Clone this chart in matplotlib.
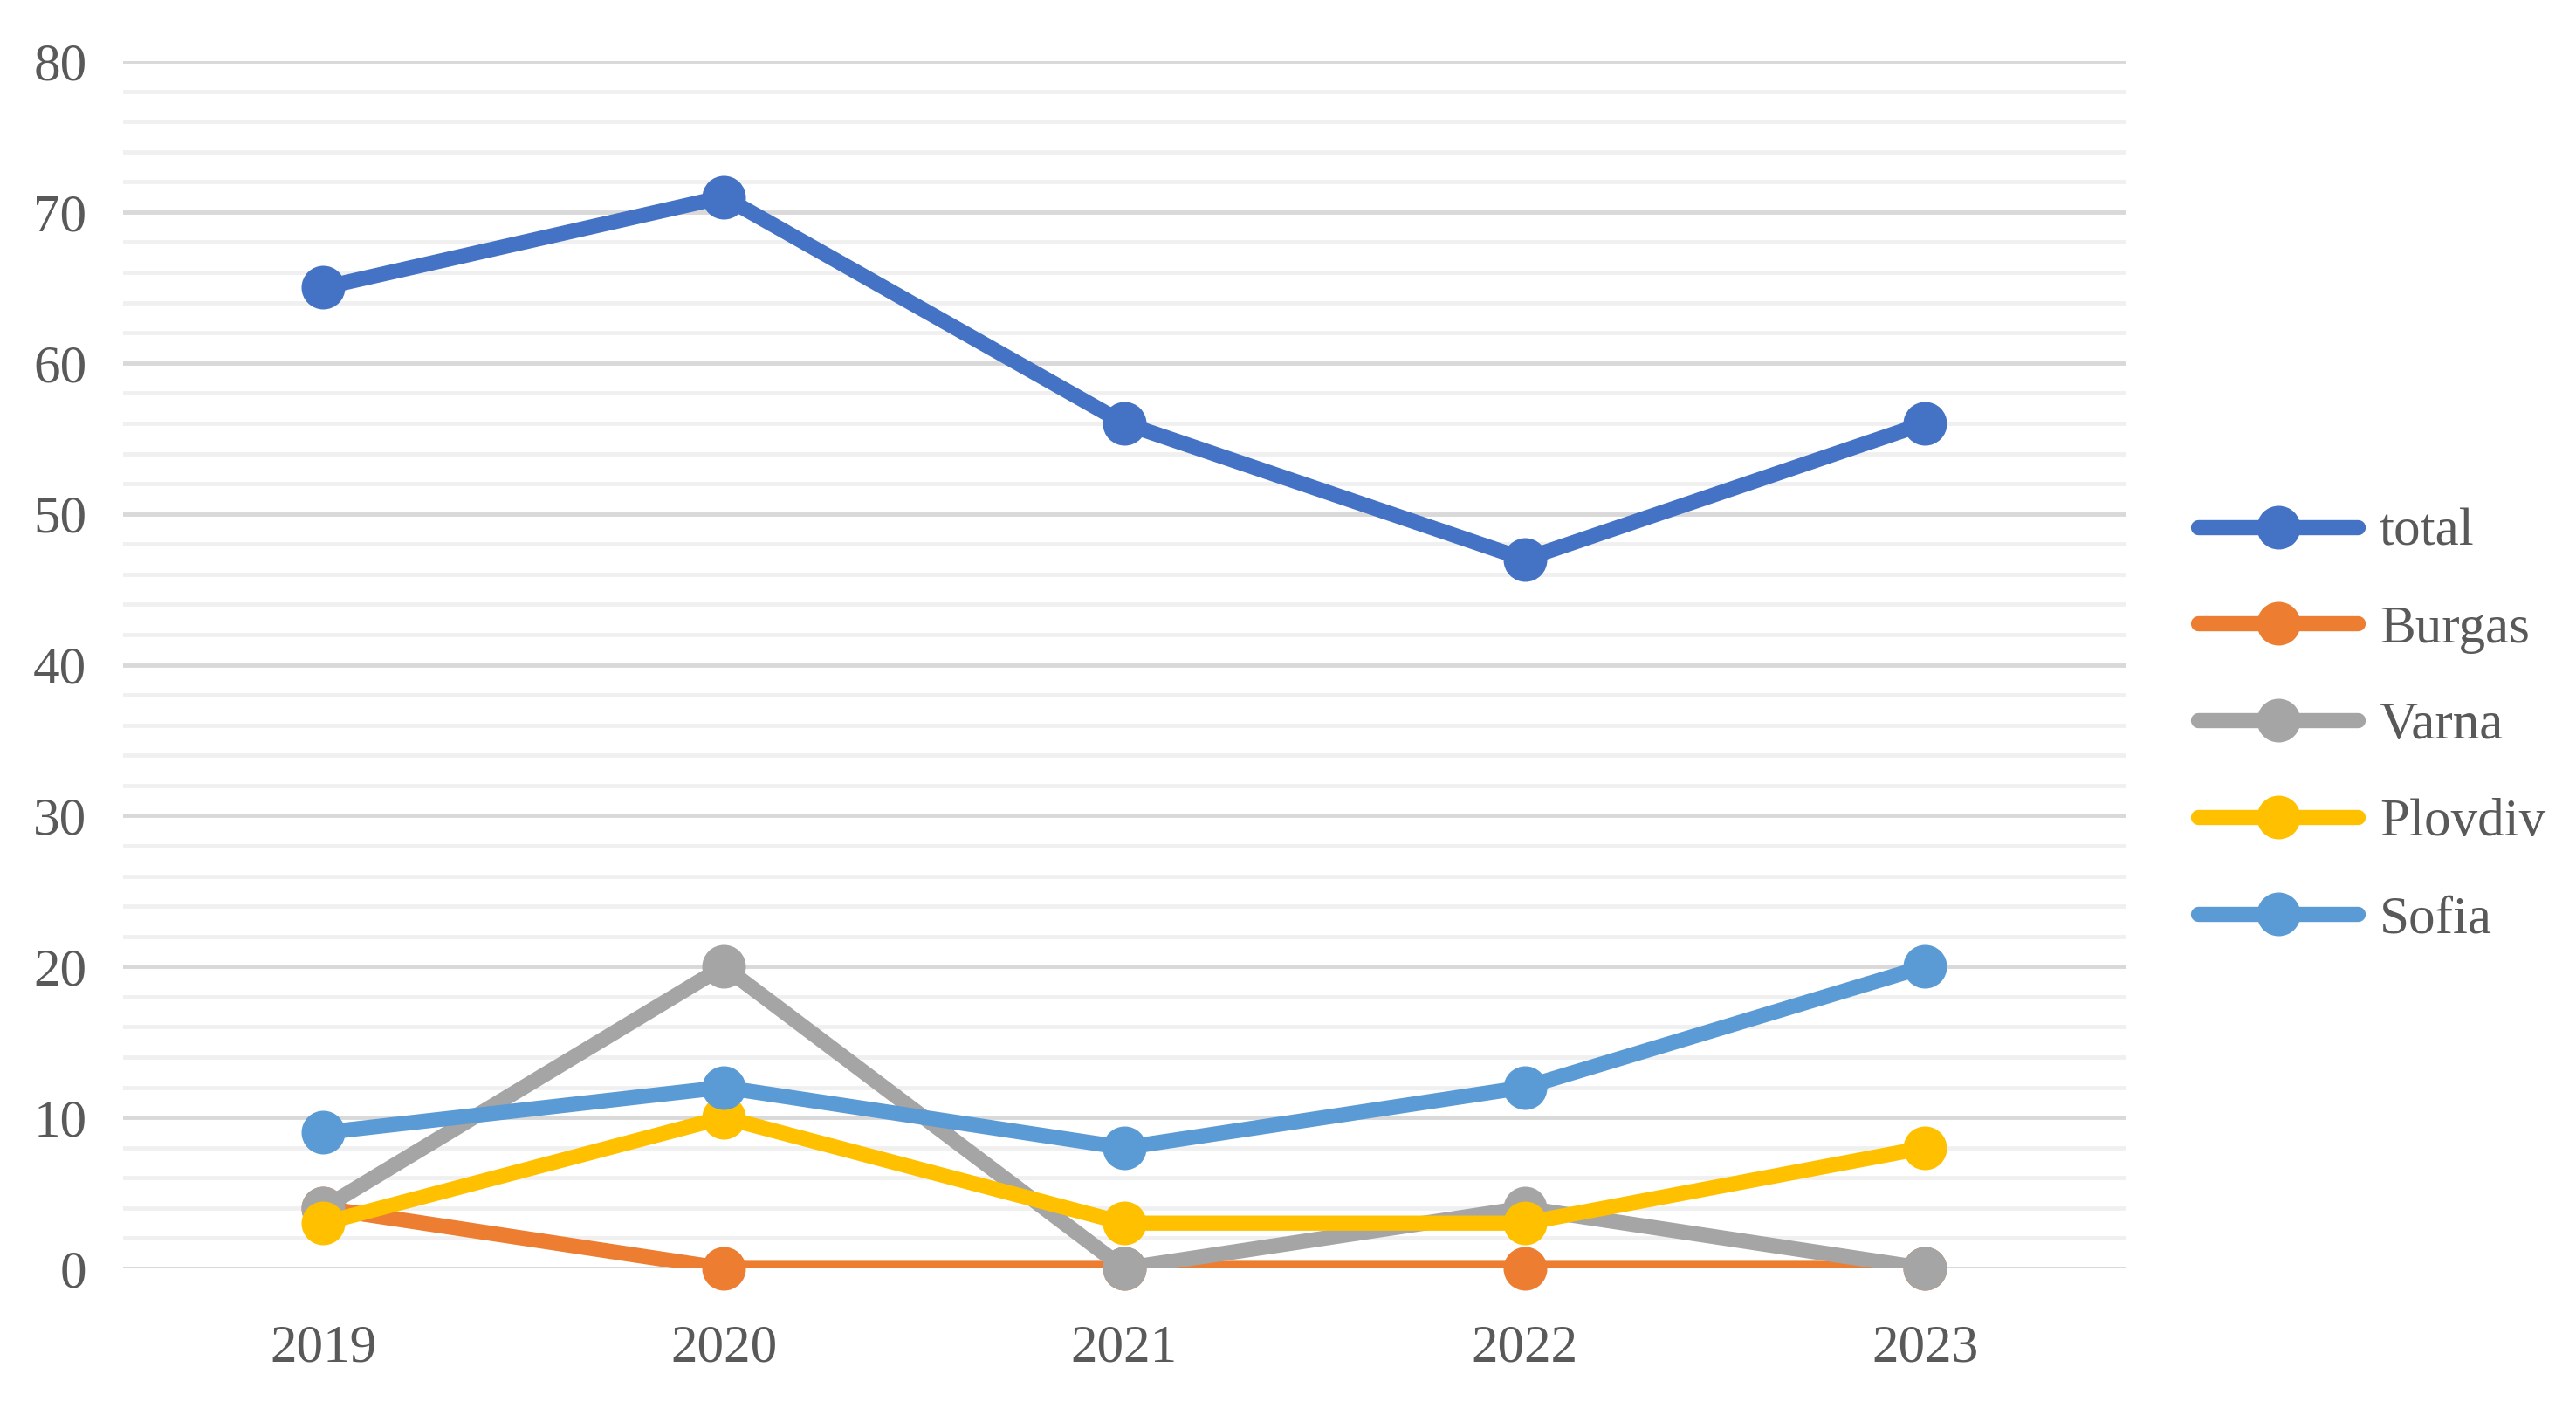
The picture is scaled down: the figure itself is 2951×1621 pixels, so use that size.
import matplotlib.pyplot as plt
from matplotlib.ticker import MultipleLocator

years = ['2019', '2020', '2021', '2022', '2023']
total = [65, 71, 56, 47, 56]
burgas = [4, 0, 0, 0, 0]
varna = [4, 20, 0, 4, 0]
plovdiv = [3, 10, 3, 3, 8]
sofia = [9, 12, 8, 12, 20]

series = [
    ('total', total, '#4472C4'),
    ('Burgas', burgas, '#ED7D31'),
    ('Varna', varna, '#A5A5A5'),
    ('Plovdiv', plovdiv, '#FFC000'),
    ('Sofia', sofia, '#5B9BD5'),
]

plt.rcParams['font.family'] = ['Liberation Serif', 'DejaVu Serif']
text_color = '#595959'

fig = plt.figure(figsize=(29.51, 16.21), dpi=100)
ax = fig.add_axes([0.0478, 0.1036, 0.7772, 0.8532])

x = list(range(len(years)))
handles = []
for name, vals, color in series:
    ax.plot(x, vals, color=color, lw=12.5, solid_capstyle='round', zorder=3)
    ax.plot(x, vals, 'o', color=color, ms=35, clip_on=False, zorder=3)
    h, = ax.plot([], [], color=color, lw=12.5, marker='o', ms=35,
                 solid_capstyle='round')
    handles.append((h, name))

ax.set_xlim(-0.5, 4.5)
ax.set_ylim(0, 80)
ax.set_xticks(x)
ax.set_xticklabels(years)
ax.yaxis.set_major_locator(MultipleLocator(10))
ax.yaxis.set_minor_locator(MultipleLocator(2))
ax.grid(which='major', axis='y', color='#d9d9d9', lw=3.5, zorder=0)
ax.grid(which='minor', axis='y', color='#f0f0f0', lw=3.5, zorder=0)
ax.set_axisbelow(True)
for s in ax.spines.values():
    s.set_visible(False)
ax.tick_params(axis='both', which='both', length=0, labelsize=44,
               labelcolor=text_color)
ax.tick_params(axis='y', pad=30)
ax.tick_params(axis='x', pad=46)

leg = fig.legend([h for h, _ in handles], [n for _, n in handles],
                 loc='center left', bbox_to_anchor=(0.845, 0.487),
                 frameon=False, fontsize=44, handlelength=3.0,
                 handletextpad=0.4, labelspacing=0.9, borderaxespad=0)
for t in leg.get_texts():
    t.set_color(text_color)

fig.savefig('out.png', dpi=100, facecolor='white')
